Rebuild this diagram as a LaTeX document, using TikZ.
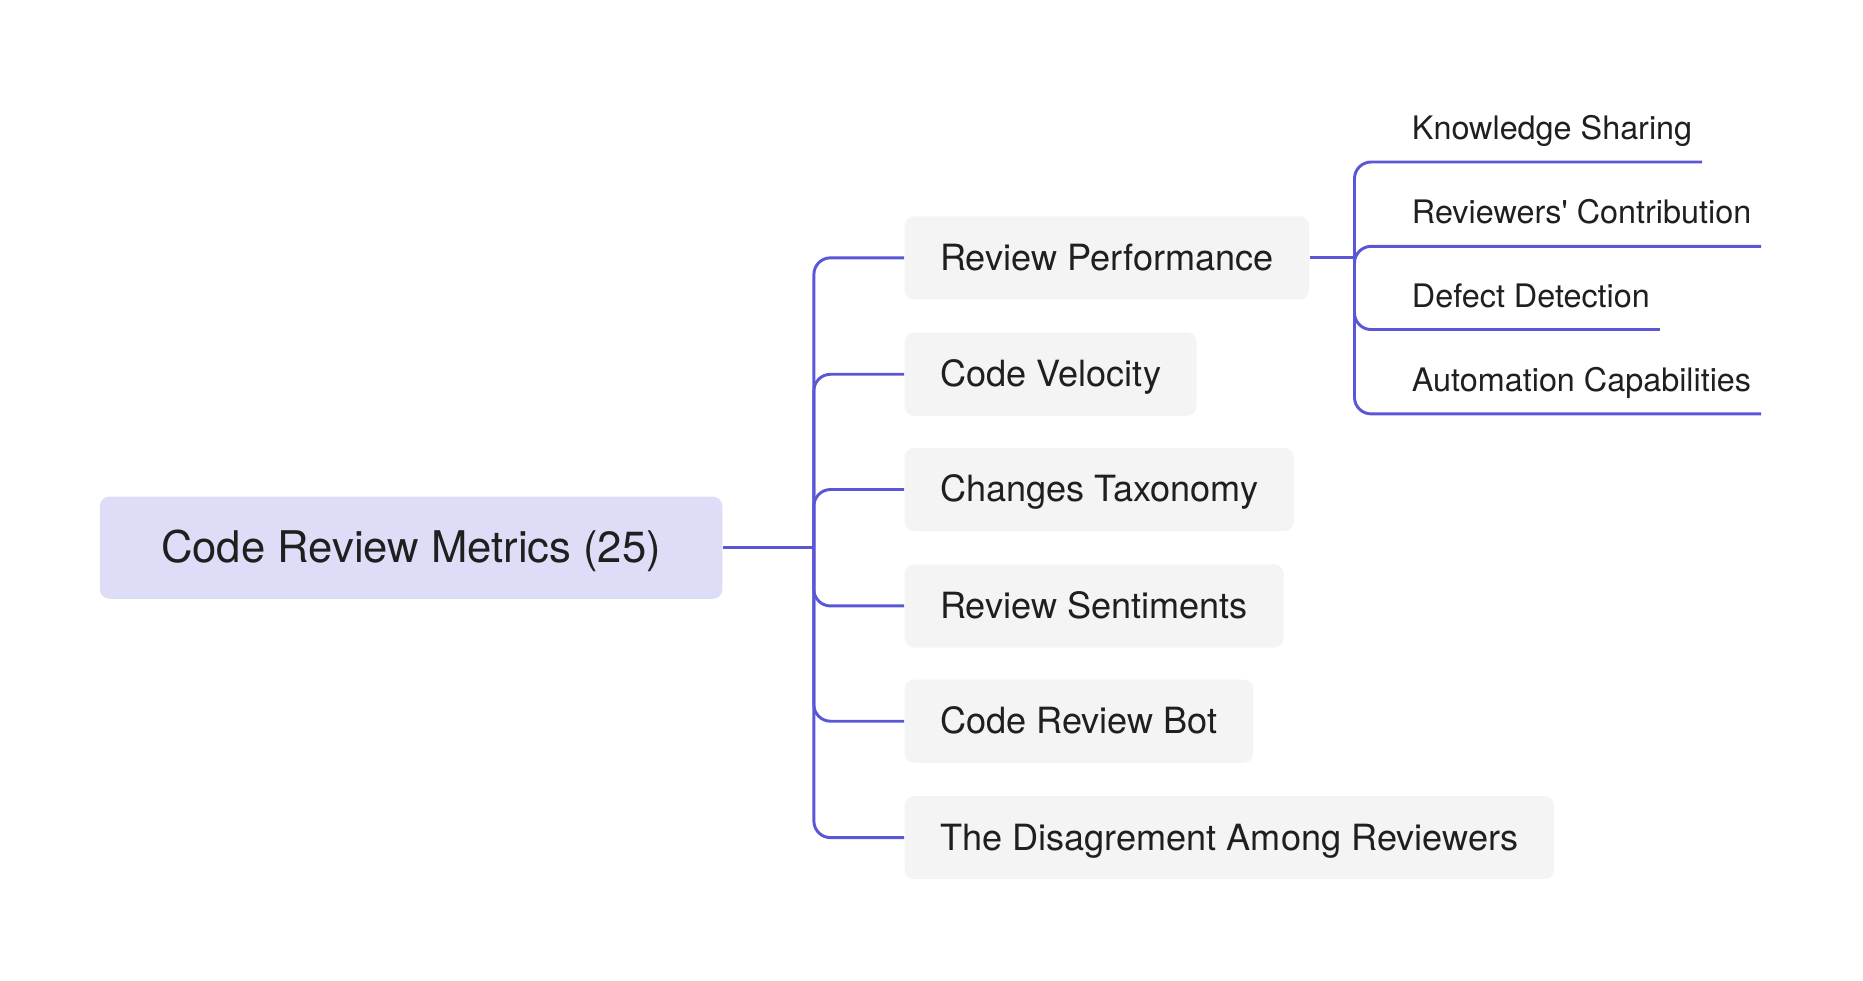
\documentclass[tikz,border=0pt]{standalone}
\usepackage{fontspec}
\setmainfont{TeX Gyre Heros}
\definecolor{colline}{HTML}{5A57D6}
\definecolor{colroot}{HTML}{DDDDF8}
\definecolor{coltopic}{HTML}{F4F4F4}
\definecolor{coltext}{HTML}{1F1F1F}
\tikzset{
    map node/.style={
        text=coltext, inner ysep=0pt, anchor=west,
    },
    root/.style={map node, anchor=center, fill=colroot,
        rounded corners=0.16cm, minimum width=10.48cm, minimum height=1.72cm,
        text height=0.60cm, text depth=0.105cm,
        font=\fontsize{20.9}{25}\selectfont},
    topic/.style={map node, fill=coltopic, rounded corners=0.16cm,
        inner xsep=0.6cm, minimum height=1.4cm,
        text height=0.50cm, text depth=0.08cm,
        font=\fontsize{17.3}{20}\selectfont},
    leaf/.style={map node, anchor=base west, inner xsep=0.16cm,
        text depth=0.37cm, font=\fontsize{15.5}{18}\selectfont},
    map edge/.style={draw=colline, line width=1.4pt, rounded corners=0.28cm},
}

\begin{document}
\begin{tikzpicture}[x=0.02cm, y=-0.02cm]

\useasboundingbox (0, 0) rectangle (1568, 825);

% ===== ROOT =====
\node[root] (root) at (346, 461) {Code Review Metrics (25)};
\coordinate (rootfork) at (685, 461);

% ===== TOPICS =====
\node[topic] (RP) at (761, 217) {Review Performance};
\node[topic] (CV) at (761, 315) {Code Velocity};
\node[topic] (CT) at (761, 412) {Changes Taxonomy};
\node[topic] (RS) at (761, 510) {Review Sentiments};
\node[topic] (CB) at (761, 607) {Code Review Bot};
\node[topic] (DR) at (761, 705) {The Disagrement Among Reviewers};
\coordinate (rpfork) at (1140, 217);

% ===== LEAVES =====
\node[leaf] (KS) at (1180, 117.5) {Knowledge Sharing};
\node[leaf] (RC) at (1180, 188.5) {Reviewers\textquotesingle{} Contribution};
\node[leaf] (DD) at (1180, 258.5) {Defect Detection};
\node[leaf] (AC) at (1180, 329.5) {Automation Capabilities};

% ===== EDGES =====
\draw[map edge] (root.east) -- (rootfork);
\foreach \t in {RP, CV, CT, RS, CB, DR}
    \draw[map edge] (rootfork) |- (\t.west);
\draw[map edge] (RP.east) -- (rpfork);
\foreach \l in {KS, RC, DD, AC}
    \draw[map edge] (rpfork) |- (\l.south east);

\end{tikzpicture}
\end{document}
